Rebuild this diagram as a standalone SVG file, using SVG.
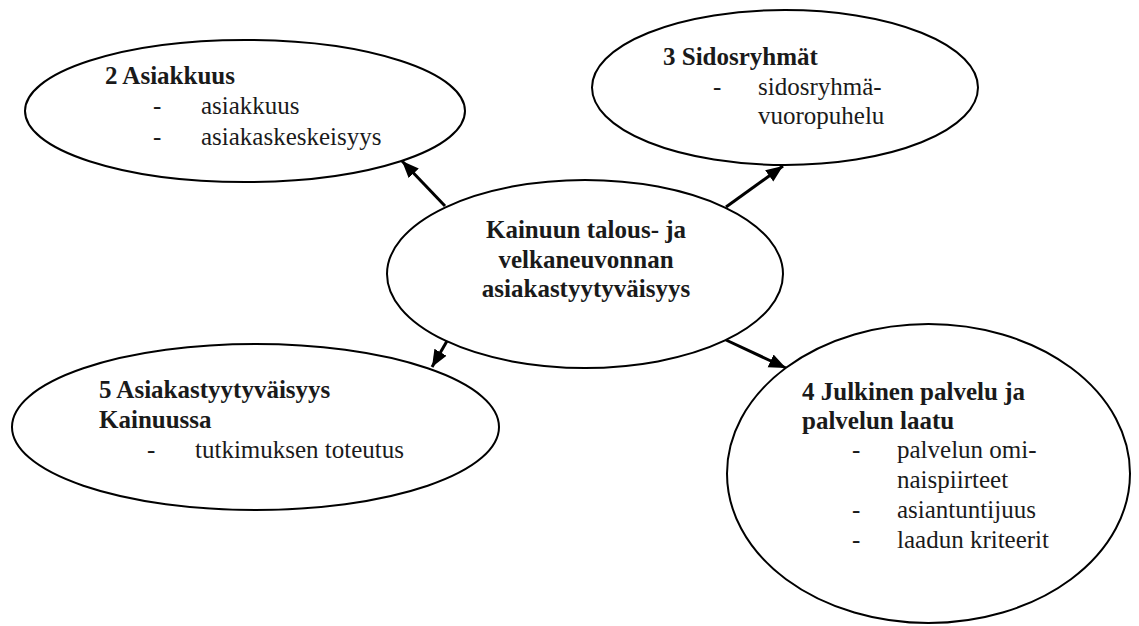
<svg xmlns="http://www.w3.org/2000/svg" width="1139" height="626" viewBox="0 0 1139 626">
<defs>
<marker id="arr" markerUnits="userSpaceOnUse" markerWidth="18" markerHeight="16" viewBox="0 0 18 16" refX="17" refY="8" orient="auto">
<path d="M0,1 L17,8 L0,15 Z" fill="#000"/>
</marker>
</defs>
<rect width="1139" height="626" fill="#fff"/>
<g id="connectors" stroke="#000" stroke-width="3" fill="none">
<line x1="445" y1="206" x2="402" y2="161" marker-end="url(#arr)"/>
<line x1="726" y1="207" x2="783" y2="166" marker-end="url(#arr)"/>
<line x1="726" y1="340" x2="786" y2="368" marker-end="url(#arr)"/>
<line x1="447" y1="341" x2="432" y2="367" marker-end="url(#arr)"/>
</g>
<g id="node-center">
<ellipse fill="#fff" stroke="#000" stroke-width="2" cx="585" cy="274" rx="198" ry="94"/>
<text font-family="Liberation Serif" font-size="25" font-weight="bold" fill="#1a1a1a" text-anchor="middle" x="586" y="238">Kainuun talous- ja</text>
<text font-family="Liberation Serif" font-size="25" font-weight="bold" fill="#1a1a1a" text-anchor="middle" x="586" y="268">velkaneuvonnan</text>
<text font-family="Liberation Serif" font-size="25" font-weight="bold" fill="#1a1a1a" text-anchor="middle" x="586" y="297">asiakastyytyväisyys</text>
</g>
<g id="node-2">
<ellipse fill="#fff" stroke="#000" stroke-width="2" cx="245" cy="111" rx="220" ry="71"/>
<text font-family="Liberation Serif" font-size="25" font-weight="bold" fill="#1a1a1a" x="105" y="84">2 Asiakkuus</text>
<text font-family="Liberation Serif" font-size="25" fill="#1a1a1a" x="153" y="114">-</text>
<text font-family="Liberation Serif" font-size="25" fill="#1a1a1a" x="201" y="114">asiakkuus</text>
<text font-family="Liberation Serif" font-size="25" fill="#1a1a1a" x="153" y="145">-</text>
<text font-family="Liberation Serif" font-size="25" fill="#1a1a1a" x="201" y="145">asiakaskeskeisyys</text>
</g>
<g id="node-3">
<ellipse fill="#fff" stroke="#000" stroke-width="2" cx="785" cy="87.5" rx="193" ry="77.5"/>
<text font-family="Liberation Serif" font-size="25" font-weight="bold" fill="#1a1a1a" x="663" y="65">3 Sidosryhmät</text>
<text font-family="Liberation Serif" font-size="25" fill="#1a1a1a" x="713" y="95">-</text>
<text font-family="Liberation Serif" font-size="25" fill="#1a1a1a" x="758" y="95">sidosryhmä-</text>
<text font-family="Liberation Serif" font-size="25" fill="#1a1a1a" x="758" y="124">vuoropuhelu</text>
</g>
<g id="node-5">
<ellipse fill="#fff" stroke="#000" stroke-width="2" cx="255.5" cy="427" rx="243.5" ry="83"/>
<text font-family="Liberation Serif" font-size="25" font-weight="bold" fill="#1a1a1a" x="99" y="398">5 Asiakastyytyväisyys</text>
<text font-family="Liberation Serif" font-size="25" font-weight="bold" fill="#1a1a1a" x="99" y="428">Kainuussa</text>
<text font-family="Liberation Serif" font-size="25" fill="#1a1a1a" x="147" y="458">-</text>
<text font-family="Liberation Serif" font-size="25" fill="#1a1a1a" x="195" y="458">tutkimuksen toteutus</text>
</g>
<g id="node-4">
<ellipse fill="#fff" stroke="#000" stroke-width="2" cx="928.5" cy="473.5" rx="201.5" ry="149.5"/>
<text font-family="Liberation Serif" font-size="25" font-weight="bold" fill="#1a1a1a" x="802" y="400">4 Julkinen palvelu ja</text>
<text font-family="Liberation Serif" font-size="25" font-weight="bold" fill="#1a1a1a" x="802" y="429">palvelun laatu</text>
<text font-family="Liberation Serif" font-size="25" fill="#1a1a1a" x="852" y="458">-</text>
<text font-family="Liberation Serif" font-size="25" fill="#1a1a1a" x="897" y="458">palvelun omi-</text>
<text font-family="Liberation Serif" font-size="25" fill="#1a1a1a" x="897" y="488">naispiirteet</text>
<text font-family="Liberation Serif" font-size="25" fill="#1a1a1a" x="852" y="518">-</text>
<text font-family="Liberation Serif" font-size="25" fill="#1a1a1a" x="897" y="518">asiantuntijuus</text>
<text font-family="Liberation Serif" font-size="25" fill="#1a1a1a" x="852" y="548">-</text>
<text font-family="Liberation Serif" font-size="25" fill="#1a1a1a" x="897" y="548">laadun kriteerit</text>
</g>
</svg>
